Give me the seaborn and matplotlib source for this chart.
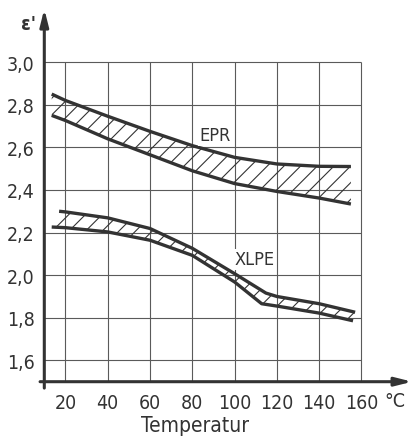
import numpy as np
import pandas as pd
import seaborn as sns
import matplotlib.pyplot as plt

# values
xTicks = [20, 40, 60, 80, 100, 120, 140, 160]
yTicks = [1.6, 1.8, 2.0, 2.2, 2.4, 2.6, 2.8, 3.0]
yTickLabels = ['1,6', '1,8', '2,0', '2,2', '2,4', '2,6', '2,8', '3,0']

eprX = [13.5, 20, 40, 60, 80, 100, 120, 140, 155]
eprUpper = [2.85, 2.82, 2.746, 2.675, 2.608, 2.553, 2.522, 2.511, 2.51]
eprLower = [2.75, 2.726, 2.64, 2.565, 2.49, 2.43, 2.393, 2.362, 2.334]

xlpeUpperX = [17, 20, 40, 60, 80, 100, 114.8, 120, 140, 157]
xlpeUpper = [2.30, 2.297, 2.269, 2.219, 2.126, 2.007, 1.916, 1.90, 1.866, 1.826]
xlpeLowerX = [13.5, 20, 40, 60, 80, 100, 112.8, 120, 140, 156]
xlpeLower = [2.226, 2.223, 2.203, 2.164, 2.093, 1.968, 1.866, 1.855, 1.822, 1.786]

sns.set_style('white')
plt.rcParams['font.family'] = ['DejaVu Sans']
plt.rcParams['font.stretch'] = 'condensed'
plt.rcParams['hatch.linewidth'] = 0.8

ink = '#333333'
gridCol = '#5a5a5a'

fig = plt.figure(figsize=(4.12, 4.39), dpi=100)
ax = fig.add_axes([44.3 / 412, 56.3 / 439, (408 - 44.3) / 412, (427 - 56.3) / 439])
ax.set_xlim(10, 182)
ax.set_ylim(1.5, 3.24)

# grid only inside the drawn area
ax.vlines(xTicks, 1.5, 3.0, color=gridCol, lw=0.8, zorder=1)
ax.hlines(yTicks, 10, 160, color=gridCol, lw=0.8, zorder=1)

# hatched bands
ax.fill(np.concatenate([eprX, eprX[::-1]]), np.concatenate([eprUpper, eprLower[::-1]]),
        facecolor='none', edgecolor=ink, hatch='//', lw=0, zorder=2)
ax.fill(np.concatenate([xlpeUpperX, xlpeLowerX[::-1]]), np.concatenate([xlpeUpper, xlpeLower[::-1]]),
        facecolor='none', edgecolor=ink, hatch='//', lw=0, zorder=2)

for xs, ys in [(eprX, eprUpper), (eprX, eprLower), (xlpeUpperX, xlpeUpper), (xlpeLowerX, xlpeLower)]:
    df = pd.DataFrame({'T': xs, 'eps': ys})
    sns.lineplot(data=df, x='T', y='eps', sort=False, color=ink, lw=2.4, ax=ax, zorder=3,
                 solid_joinstyle='round', solid_capstyle='butt')

ax.text(90.7, 2.656, 'EPR', ha='center', va='center', fontsize=13, color=ink,
        bbox=dict(facecolor='white', edgecolor='none', pad=1))
ax.text(109.6, 2.074, 'XLPE', ha='center', va='center', fontsize=13, color=ink,
        bbox=dict(facecolor='white', edgecolor='none', pad=1))

# axes with arrows
for s in ax.spines.values():
    s.set_visible(False)
ax.annotate('', xy=(184, 1.5), xytext=(8, 1.5), annotation_clip=False,
            arrowprops=dict(arrowstyle='-|>,head_length=1.0,head_width=0.25', lw=2.2, color=ink, shrinkA=0, shrinkB=0))
ax.annotate('', xy=(10, 3.25), xytext=(10, 1.47), annotation_clip=False,
            arrowprops=dict(arrowstyle='-|>,head_length=1.0,head_width=0.25', lw=2.2, color=ink, shrinkA=0, shrinkB=0))

ax.set_xticks(xTicks)
ax.set_xticklabels([str(t) for t in xTicks])
ax.set_yticks(yTicks)
ax.set_yticklabels(yTickLabels)
ax.tick_params(axis='x', length=3, width=0.8, color=gridCol, pad=5, labelsize=14, labelcolor=ink)
ax.tick_params(axis='y', length=4, width=0.8, color=gridCol, pad=3, labelsize=14, labelcolor=ink)
ax.set_xlabel('')
ax.set_ylabel('')

ax.text(175.8, 1.41, '°C', ha='center', va='center', fontsize=14, color=ink, clip_on=False)
ax.text(81.5, 1.295, 'Temperatur', ha='center', va='center', fontsize=15, color=ink, clip_on=False)
fig.text(28 / 412, 1 - 25 / 439, "ε'", ha='center', va='center', fontsize=14, fontweight='bold', color=ink)

fig.savefig('out.png', dpi=100, facecolor='white')
